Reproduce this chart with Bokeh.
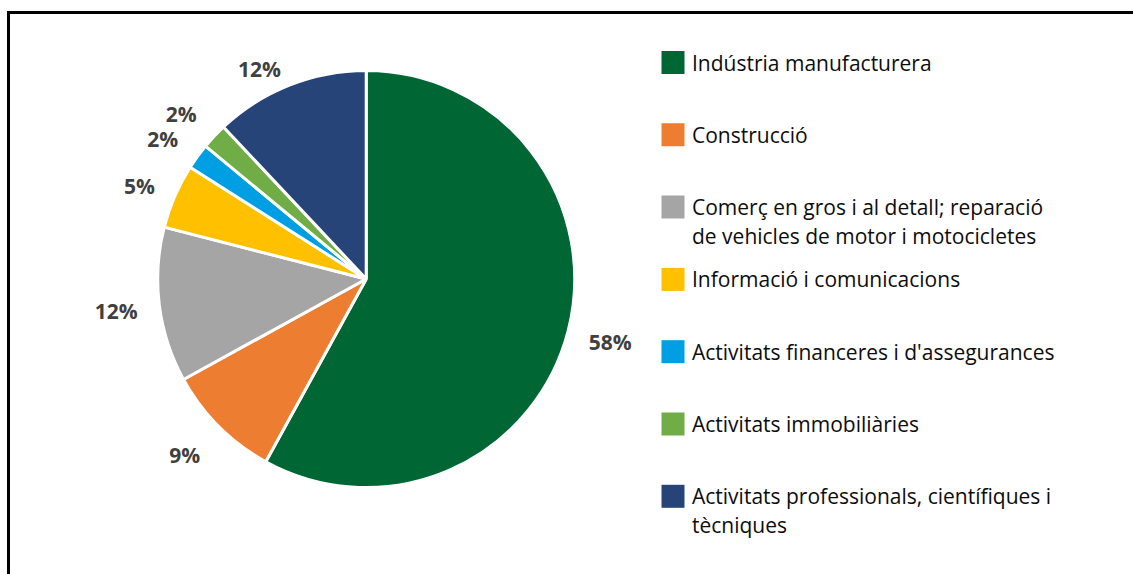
import math
from bokeh.plotting import figure
from bokeh.models import Range1d, ColumnDataSource
from bokeh.core.properties import value
from bokeh.embed import file_html
from bokeh.resources import INLINE

# ---- data ----
categories = [
    "Indústria manufacturera",
    "Construcció",
    "Comerç en gros i al detall; reparació\nde vehicles de motor i motocicletes",
    "Informació i comunicacions",
    "Activitats financeres i d'assegurances",
    "Activitats immobiliàries",
    "Activitats professionals, científiques i\ntècniques",
]
shares = [58, 9, 12, 5, 2, 2, 12]
colors = ["#006633", "#ED7D31", "#A5A5A5", "#FFC000", "#009FE3", "#70AD47", "#264478"]

# ---- layout (styling) ----
W, H = 1133, 574
cx, cy, R = 365.7, H - 278.5, 208.5
# label placement nudges (degrees, radial distance)
lab_nudge = [0.0, 0.8, 0.0, -1.2, -1.5, -1.4, -5.3]
lab_dist = [252, 253, 252, 245, 247, 248, 236]

p = figure(width=W, height=H, output_backend="svg", toolbar_location=None,
           x_range=Range1d(0, W), y_range=Range1d(0, H), min_border=0)
p.axis.visible = False
p.grid.visible = False
p.outline_line_color = None
p.background_fill_color = "white"
p.border_fill_color = "white"

# frame (left and top edges visible in the crop)
p.line(x=[8, 8, W + 5], y=[-5, H - 12, H - 12], line_color="black", line_width=3,
       line_join="miter")

total = float(sum(shares))
starts, ends, mids = [], [], []
cum = 0.0
for s in shares:
    a0 = cum / total
    cum += s
    a1 = cum / total
    starts.append(math.pi / 2 - 2 * math.pi * a0)
    ends.append(math.pi / 2 - 2 * math.pi * a1)
    mids.append((a0 + a1) / 2 * 360.0)

src = ColumnDataSource(dict(x=[cx] * len(shares), y=[cy] * len(shares),
                            start=starts, end=ends, color=colors))
p.wedge(x="x", y="y", radius=R, start_angle="start", end_angle="end",
        direction="clock", fill_color="color", line_color="white", line_width=3,
        source=src)

# data labels
lx, ly, lt = [], [], []
for i, s in enumerate(shares):
    th = math.radians(mids[i] + lab_nudge[i])
    lx.append(cx + lab_dist[i] * math.sin(th))
    ly.append(cy + lab_dist[i] * math.cos(th))
    lt.append(f"{s}%")
p.text(x=lx, y=ly, text=lt, text_font=value("Open Sans"), text_font_style="bold",
       text_font_size="21px", text_color="#404040", text_align="center",
       text_baseline="middle")

# legend
leg_x, leg_y0, leg_step, line_h = 672.5, H - 62, 72.3, 29
sq_x, sq_y, tx, ty, tt = [], [], [], [], []
for i, cat in enumerate(categories):
    yc = leg_y0 - i * leg_step
    sq_x.append(leg_x)
    sq_y.append(yc)
    for j, line in enumerate(cat.split("\n")):
        tx.append(leg_x + 19)
        ty.append(yc - j * line_h)
        tt.append(line)
p.rect(x=sq_x, y=sq_y, width=23, height=23, width_units="screen", height_units="screen",
       fill_color=colors, line_color=None)
p.text(x=tx, y=ty, text=tt, text_font=value("Open Sans"), text_font_size="21px",
       text_color="#0D0D0D", text_align="left", text_baseline="middle")

open("out.html", "w").write(file_html(p, INLINE))
